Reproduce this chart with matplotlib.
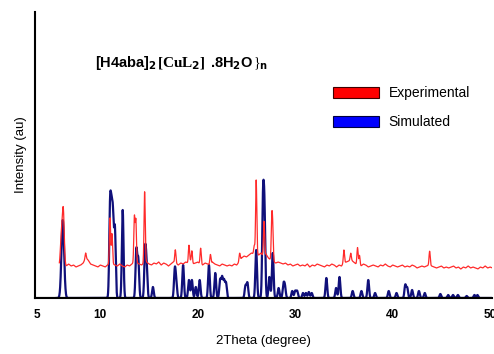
import numpy as np
import matplotlib
matplotlib.use("Agg")
import matplotlib.pyplot as plt
from matplotlib.patches import Patch

# ---- data ----
sim_pos = [6.15, 11.0, 11.15, 11.3, 11.5, 12.3, 13.7, 13.9, 14.6, 14.75, 15.4,
           17.65, 17.8, 18.5, 19.1, 19.4, 19.8, 20.2, 21.15, 21.8, 22.3, 22.5,
           22.7, 22.9, 24.9, 25.1, 26.0, 26.7, 26.85, 27.35, 27.7, 28.3, 28.8,
           28.95, 29.7, 30.0, 30.2, 30.8, 31.1, 31.4, 31.7, 33.2, 34.2, 34.55,
           35.9, 36.8, 37.5, 38.2, 39.6, 40.4, 41.3, 41.5, 42.0, 42.7, 43.3,
           44.9, 45.7, 46.2, 46.7, 47.6, 48.4, 48.7]
sim_int = [78, 85, 70, 72, 68, 88, 48, 38, 46, 30, 11,
           28, 14, 33, 18, 18, 11, 18, 33, 25, 18, 20,
           17, 15, 12, 15, 48, 93, 80, 21, 45, 10, 13,
           11, 7, 7, 7, 5, 5, 6, 5, 20, 10, 21,
           7, 7, 18, 5, 7, 5, 13, 10, 8, 7, 5,
           4, 3, 3, 3, 2, 3, 3]

exp_pos = [6.0, 6.2, 8.5, 11.0, 11.2, 13.5, 13.65, 14.55, 17.7, 19.1, 19.4, 20.3,
           21.3, 24.3, 25.8, 26.0, 26.8, 27.6, 27.7, 35.0, 35.7, 36.4, 36.6, 43.8]
exp_int = [30, 55, 5, 45, 30, 45, 42, 71, 13, 17, 12, 16,
           10, 8, 8, 72, 35, 40, 30, 13, 7, 17, 10, 14]

exp_bg_start, exp_bg_step = 5.75, 0.25
exp_bg = [32, 31, 33, 32, 34, 32, 33, 31, 32, 33,
          35, 40, 38, 34, 33, 32, 31, 33, 32, 31,
          33, 35, 34, 33, 32, 34, 32, 31, 33, 32,
          34, 36, 35, 34, 33, 35, 36, 34, 33, 35,
          34, 36, 33, 35, 34, 32, 34, 36, 35, 33,
          35, 34, 36, 35, 37, 34, 35, 36, 34, 33,
          35, 34, 33, 36, 34, 33, 32, 34, 33, 32,
          33, 32, 34, 33, 36, 40, 42, 41, 43, 45,
          44, 46, 43, 45, 41, 44, 40, 38, 36, 35,
          36, 35, 34, 35, 33, 34, 32, 33, 34, 32,
          33, 32, 34, 31, 33, 32, 34, 33, 32, 31,
          33, 32, 34, 33, 31, 33, 32, 35, 36, 37,
          38, 36, 34, 33, 32, 34, 33, 31, 32, 33,
          32, 31, 33, 32, 34, 32, 31, 33, 32, 31,
          32, 33, 31, 32, 31, 33, 32, 30, 31, 32,
          31, 32, 33, 32, 31, 30, 31, 32, 30, 31,
          30, 31, 32, 30, 31, 29, 31, 30, 32, 30,
          31, 30, 29, 31, 30, 32, 30, 31, 30]

xtick_pos = [3.45, 10, 20, 30, 40, 50]
xtick_lab = ["5", "10", "20", "30", "40", "50"]

# ---- build profiles ----
def profile(x, pos, inten, sig):
    y = np.zeros_like(x)
    for p, h in zip(pos, inten):
        s = sig * (1.6 if p < 7 else 1.0)
        y += h * np.exp(-0.5 * ((x - p) / s) ** 2)
    return y

xs = np.arange(5.5, 50.2, 0.01)
ysim = profile(xs, sim_pos, sim_int, 0.085)

bg_x = exp_bg_start + exp_bg_step * np.arange(len(exp_bg))
xe = np.arange(5.8, 50.25, 0.01)
yexp = np.interp(xe, bg_x, exp_bg) + profile(xe, exp_pos, exp_int, 0.06)

plt.rcParams['font.family'] = ['Liberation Sans', 'DejaVu Sans']

fig = plt.figure(figsize=(4.94, 3.54), dpi=100)
ax = fig.add_axes([35/494, 56/354, 457/494, 286/354])

ax.plot(xs, ysim, color='#10107a', lw=1.6)
ax.plot(xe, yexp, color='#ff2a2a', lw=0.9)
ax.axhline(0, color='black', lw=1.5)

ax.set_xlim(3.3, 50.2)
ax.set_ylim(0, 286)
ax.set_yticks([])
ax.set_xticks(xtick_pos)
ax.set_xticklabels(xtick_lab, fontsize=8.5, fontweight='bold')
ax.tick_params(axis='x', length=0, pad=8)
for s in ['top', 'right']:
    ax.spines[s].set_visible(False)
ax.spines['left'].set_linewidth(1.5)
ax.spines['bottom'].set_linewidth(1.5)

ax.set_xlabel("2Theta (degree)", fontsize=9.5, labelpad=10)
ax.set_ylabel("Intensity (au)", fontsize=9.5, labelpad=6)

# title formula
fig.text(95/494, 1-67/354, r"[H4aba]$_\mathbf{2}$", fontsize=10.5, fontweight='bold', va='baseline')
fig.text(157/494, 1-67/354, r"[CuL$_\mathbf{2}$]", fontsize=11, fontweight='bold', va='baseline',
         family='Liberation Serif')
fig.text(210/494, 1-67/354, r".8H$_\mathbf{2}$O", fontsize=10.5, fontweight='bold', va='baseline')
fig.text(253/494, 1-67/354, r"}$_\mathbf{n}$", fontsize=10, va='baseline', family='Liberation Serif')

handles = [Patch(facecolor='#ff0000', edgecolor='#400000', lw=0.8),
           Patch(facecolor='#0000ff', edgecolor='#000040', lw=0.8)]
fig.legend(handles, ["Experimental", "Simulated"], loc='upper left',
           bbox_to_anchor=(333/494, 1-86/354), frameon=False, fontsize=10,
           handlelength=3.3, handleheight=0.86, handletextpad=0.7,
           labelspacing=1.1, borderpad=0, borderaxespad=0)

fig.savefig("out.png", dpi=100)
